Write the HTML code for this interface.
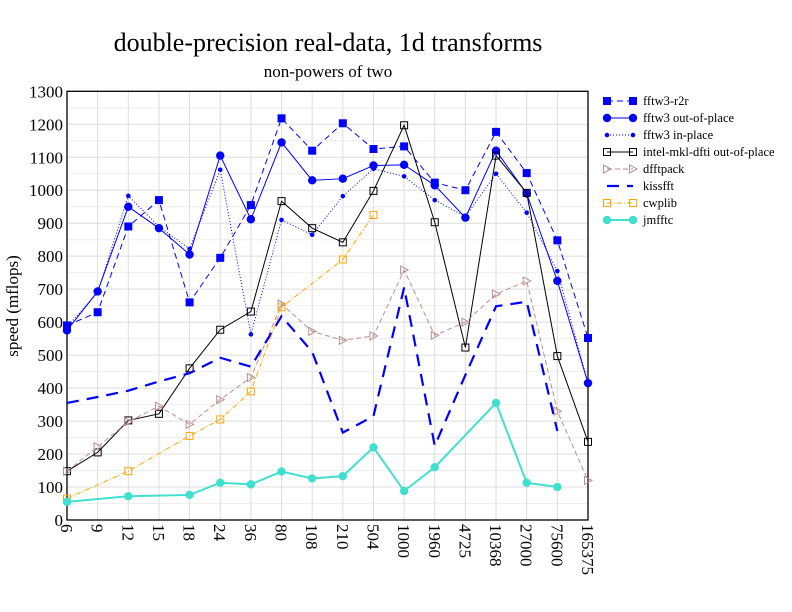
<!DOCTYPE html>
<html><head><meta charset="utf-8"><style>
html,body{margin:0;padding:0;background:#fff}
svg{display:block;font-family:"Liberation Serif",serif}
</style></head><body>
<svg id="s" width="792" height="612" xmlns="http://www.w3.org/2000/svg">
<rect width="792" height="612" fill="#fff"/>
<text x="328" y="51" font-size="26" text-anchor="middle">double-precision real-data, 1d transforms</text>
<text x="328" y="77" font-size="17" text-anchor="middle">non-powers of two</text>
<text transform="translate(18,306) rotate(-90)" font-size="17" text-anchor="middle">speed (mflops)</text>
<g id="grid"></g><g id="ser"></g><g id="leg"></g>
</svg>
<script>
const NS="http://www.w3.org/2000/svg";
const X0=67,X1=588,Y0=520,Y1=91.3;
const labs=["6","9","12","15","18","24","36","80","108","210","504","1000","1960","4725","10368","27000","75600","165375"];
const dx=(X1-X0)/17;
const px=i=>X0+i*dx, py=v=>Y0-(Y0-Y1)*v/1300;
function el(p,t,a,txt){const e=document.createElementNS(NS,t);for(const k in a)e.setAttribute(k,a[k]);if(txt!==undefined)e.textContent=txt;p.appendChild(e);return e;}
const g=document.getElementById("grid");
for(let v=50;v<1300;v+=100)el(g,"line",{x1:X0,x2:X1,y1:py(v),y2:py(v),stroke:"#eee","stroke-width":1});
for(let v=0;v<=1300;v+=100){el(g,"line",{x1:X0,x2:X1,y1:py(v),y2:py(v),stroke:"#ddd","stroke-width":1});
 el(g,"text",{x:X0-4,y:py(v)+6,"font-size":17,"text-anchor":"end"},v);}
labs.forEach((l,i)=>{el(g,"line",{x1:px(i),x2:px(i),y1:Y0,y2:Y1,stroke:"#ddd"});
 el(g,"text",{transform:`translate(${px(i)-6},${Y0+4}) rotate(90)`,"font-size":17},l);});
el(g,"rect",{x:X0,y:Y1,width:X1-X0,height:Y0-Y1,fill:"none",stroke:"#000","stroke-width":1.3});
const all=[...Array(18).keys()];
const S=[
{n:"fftw3-r2r",c:"#00f",d:"6,4",w:1,m:"sq",ms:7,fill:true,x:all,v:[590,630,890,970,660,795,955,1218,1120,1203,1125,1133,1023,1000,1177,1052,848,552]},
{n:"fftw3 out-of-place",c:"#00f",d:"",w:1,m:"ci",ms:4.2,fill:true,x:all,v:[575,693,950,885,805,1105,912,1145,1030,1035,1075,1077,1015,917,1120,990,725,415]},
{n:"fftw3 in-place",c:"#00f",d:"1,2",w:1,m:"ci",ms:2.3,fill:true,x:all,v:[585,690,983,890,822,1062,563,910,865,982,1065,1042,970,920,1050,932,755,415]},
{n:"intel-mkl-dfti out-of-place",c:"#000",d:"",w:1,m:"sq",ms:7,fill:false,x:all,v:[148,205,302,322,460,577,632,967,885,842,998,1197,903,523,1105,992,497,237]},
{n:"dfftpack",c:"#bc8f8f",d:"5,3",w:1,m:"tri",ms:7,fill:false,x:all,v:[148,222,298,345,290,365,432,655,572,545,558,758,560,600,685,725,330,120]},
{n:"kissfft",c:"#00f",d:"12,8",w:2.2,m:null,x:all.slice(0,17),v:[355,373,392,420,445,492,465,618,510,265,315,705,225,440,648,662,270]},
{n:"cwplib",c:"#ffa500",d:"5,2,1,2",w:1,m:"sq",ms:7,fill:false,x:[0,2,4,5,6,7,9,10],v:[65,148,255,305,390,645,790,925]},
{n:"jmfftc",c:"#40e0d0",d:"",w:2,m:"ci",ms:4.2,fill:true,x:[0,2,4,5,6,7,8,9,10,11,12,14,15,16],v:[55,72,76,113,108,147,126,133,220,88,160,355,113,100]}
];
const sg=document.getElementById("ser"),lg=document.getElementById("leg");
function mark(p,s,x,y){
 if(s.m==="sq")el(p,"rect",{x:x-s.ms/2,y:y-s.ms/2,width:s.ms,height:s.ms,fill:s.fill?s.c:"none",stroke:s.c});
 else if(s.m==="ci")el(p,"circle",{cx:x,cy:y,r:s.ms,fill:s.c});
 else if(s.m==="tri")el(p,"path",{d:`M${x-3.5},${y-4}L${x+4},${y}L${x-3.5},${y+4}Z`,fill:"none",stroke:s.c});
}
S.forEach((s,k)=>{
 const pts=s.x.map((i,j)=>[px(i),py(s.v[j])]);
 el(sg,"polyline",{points:pts.map(p=>p.join(",")).join(" "),fill:"none",stroke:s.c,"stroke-width":s.w,"stroke-dasharray":s.d});
 if(s.m)pts.forEach(p=>mark(sg,s,p[0],p[1]));
 const y=101+k*17;
 el(lg,"line",{x1:607,x2:633,y1:y,y2:y,stroke:s.c,"stroke-width":s.w,"stroke-dasharray":s.d});
 if(s.m){mark(lg,s,607,y);mark(lg,s,633,y);}
 el(lg,"text",{x:643,y:y+4,"font-size":12.5},s.n);
});
</script>
</body></html>
